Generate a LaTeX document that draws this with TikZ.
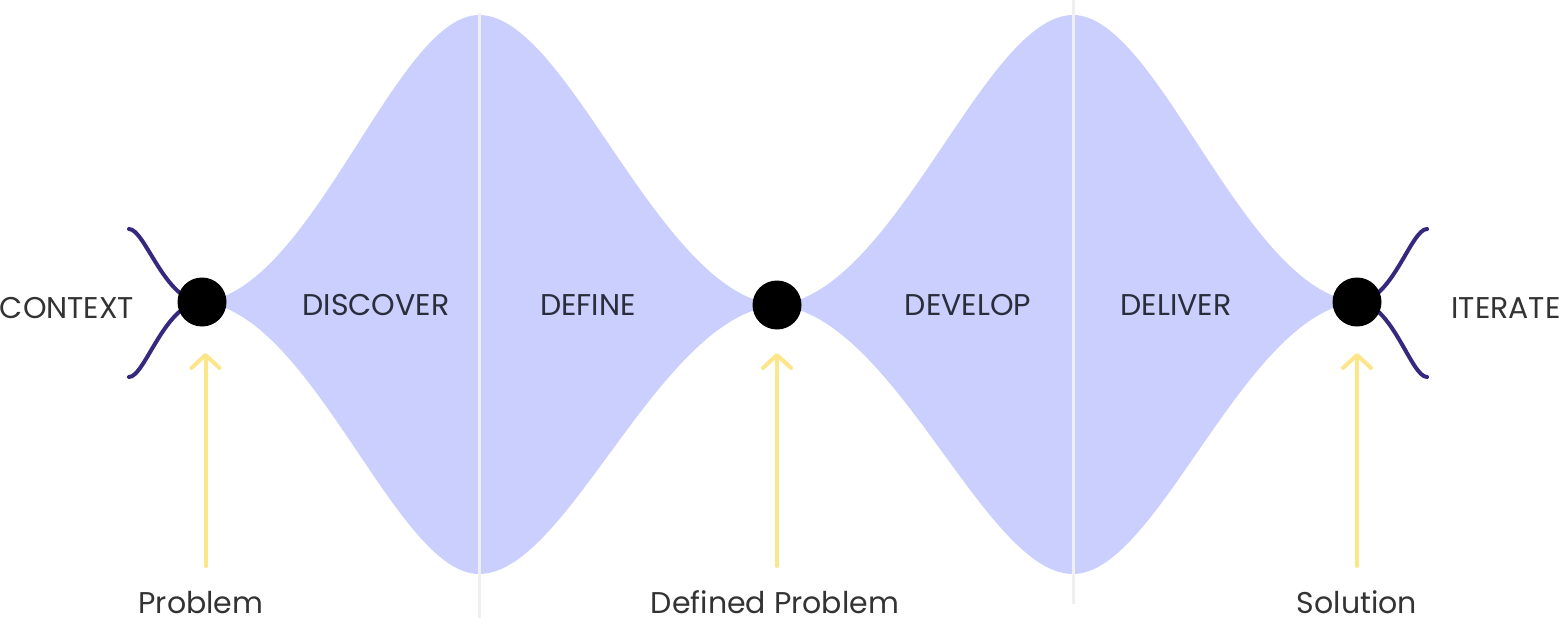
\documentclass[tikz,border=0pt]{standalone}
\usepackage{fontspec}
\setmainfont{Poppins}
\usetikzlibrary{arrows.meta}
\definecolor{lobe}{HTML}{CBCFFD}
\definecolor{indigo}{HTML}{34287F}
\definecolor{amber}{HTML}{FDE58A}
\definecolor{txt}{HTML}{333333}
\definecolor{intxt}{HTML}{2A2E3A}
\definecolor{divider}{HTML}{EFEFEF}
\tikzset{
  dot/.style={circle,fill=black,inner sep=0pt,minimum size=49pt},
  outlabel/.style={anchor=base,text=txt,font=\fontsize{30}{34}\selectfont,inner sep=0pt},
  inlabel/.style={anchor=base,text=intxt,font=\fontsize{30}{34}\selectfont,inner sep=0pt},
  branch/.style={draw=indigo,line width=4pt,line cap=round},
  uparrow/.style={draw=amber,line width=4pt,line cap=round,
    -{Straight Barb[length=13pt,width=28pt,line width=4pt,line cap=round,round]}},
  divline/.style={draw=divider,line width=3pt},
}
\begin{document}
\begin{tikzpicture}[x=1pt,y=-1pt]
\useasboundingbox (0,0) rectangle (1561,624);
\coordinate (A) at (202,302);
\coordinate (B) at (777,305);
\coordinate (C) at (1357,302);
% lobes
\fill[lobe] (A) .. controls (312.8,291) and (395.9,15) .. (479,15)
  .. controls (568.4,15) and (657.8,294) .. (B)
  .. controls (657.8,316) and (568.4,574) .. (479,574)
  .. controls (395.9,574) and (312.8,313) .. cycle;
\fill[lobe] (B) .. controls (895.4,294) and (984.2,15) .. (1073,15)
  .. controls (1158.2,15) and (1243.4,291) .. (C)
  .. controls (1243.4,313) and (1158.2,574) .. (1073,574)
  .. controls (984.2,574) and (895.4,316) .. cycle;
% dividers
\coordinate (d1t) at (479,13);
\coordinate (d1b) at (479,618);
\coordinate (d2t) at (1073,0);
\coordinate (d2b) at (1073,604);
\draw[divline] (d1t) -- (d1b);
\draw[divline] (d2t) -- (d2b);
% branches
\coordinate (lu) at (129,229);
\coordinate (ll) at (129,377);
\coordinate (ru) at (1427,229);
\coordinate (rl) at (1427,377);
\draw[branch] (lu) .. controls (145,229) and (165,302) .. (A);
\draw[branch] (ll) .. controls (145,377) and (165,302) .. (A);
\draw[branch] (ru) .. controls (1411,229) and (1392,302) .. (C);
\draw[branch] (rl) .. controls (1411,377) and (1392,302) .. (C);
% dots
\node[dot] (dA) at (A) {};
\node[dot] (dB) at (B) {};
\node[dot] (dC) at (C) {};
% arrows
\coordinate (a1s) at (205.5,566);
\coordinate (a1e) at (205.5,353);
\coordinate (a2s) at (777,566);
\coordinate (a2e) at (777,353);
\coordinate (a3s) at (1357,566);
\coordinate (a3e) at (1357,353);
\draw[uparrow] (a1s) -- (a1e);
\draw[uparrow] (a2s) -- (a2e);
\draw[uparrow] (a3s) -- (a3e);
% labels
\node[outlabel] (context) at (67,318) {CONTEXT};
\node[outlabel] (iterate) at (1506,318) {ITERATE};
\node[inlabel] (discover) at (376,315) {DISCOVER};
\node[inlabel] (define) at (588,315) {DEFINE};
\node[inlabel] (develop) at (968,315) {DEVELOP};
\node[inlabel] (deliver) at (1176,315) {DELIVER};
\node[outlabel] (problem) at (201,613) {Problem};
\node[outlabel] (defprob) at (775,613) {Defined Problem};
\node[outlabel] (solution) at (1357,613) {Solution};
\end{tikzpicture}
\end{document}
